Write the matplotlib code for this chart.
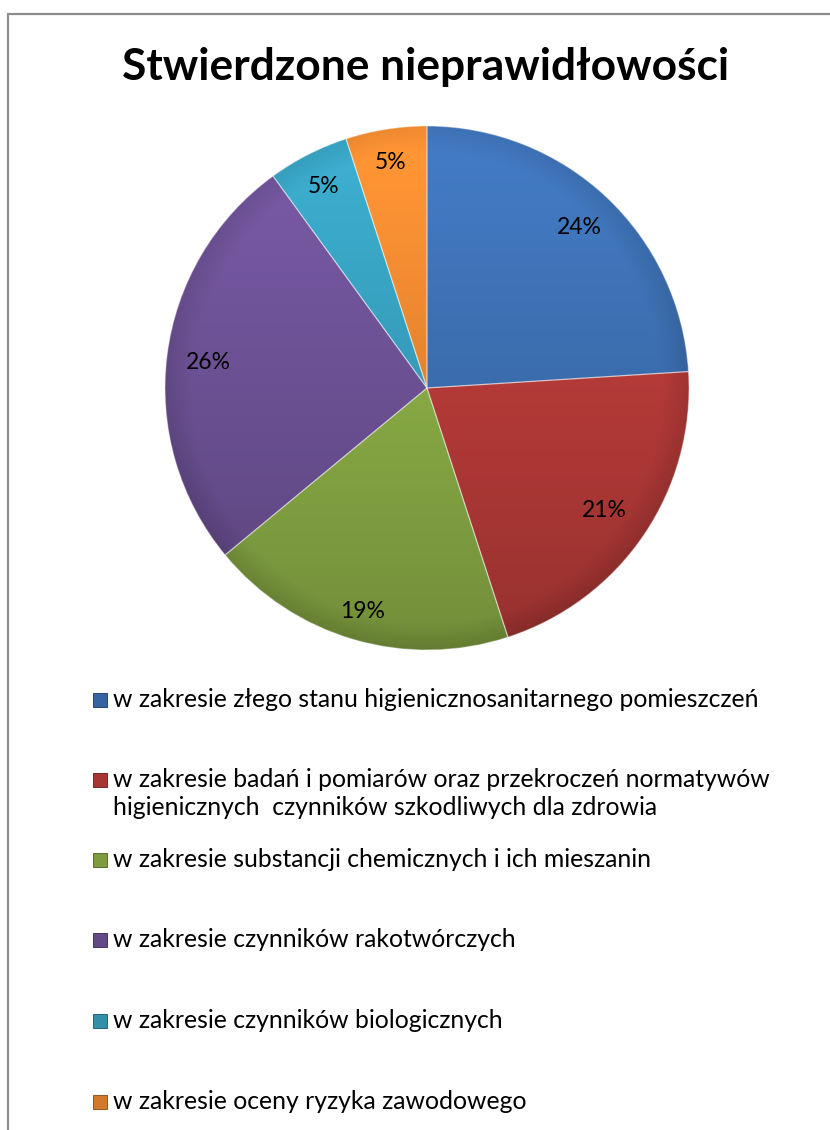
import matplotlib
matplotlib.use("Agg")
import matplotlib.pyplot as plt
import numpy as np
from matplotlib.patches import Rectangle

# ---- data ----
title = "Stwierdzone nieprawidłowości"
categories = [
    "w zakresie złego stanu higienicznosanitarnego pomieszczeń",
    "w zakresie badań i pomiarów oraz przekroczeń normatywów\nhigienicznych  czynników szkodliwych dla zdrowia",
    "w zakresie substancji chemicznych i ich mieszanin",
    "w zakresie czynników rakotwórczych",
    "w zakresie czynników biologicznych",
    "w zakresie oceny ryzyka zawodowego",
]
values = [24, 21, 19, 26, 5, 5]
pct_labels = [f"{v}%" for v in values]

# ---- styles ----
colors = ["#4076BC", "#C23F3C", "#93B74A", "#74579F", "#3AA8C8", "#F78F33"]
label_dist = [0.85, 0.82, 0.88, 0.84, 0.87, 0.88]
FONT = ["Lato", "DejaVu Sans"]
plt.rcParams["font.family"] = FONT

W, H = 830, 1130
fig = plt.figure(figsize=(W / 100, H / 100), dpi=100)
fig.patch.set_facecolor("white")

# overlay axes in pixel coordinates (y downwards)
ov = fig.add_axes([0, 0, 1, 1], zorder=0)
ov.set_xlim(0, W)
ov.set_ylim(H, 0)
ov.axis("off")
ov.patch.set_alpha(0)

# chart frame (right / bottom edges lie outside the picture)
ov.plot([8, 8, W + 20], [H + 20, 14, 14], color="#8C8C8C", lw=1.6,
        solid_joinstyle="miter", clip_on=False)

# ---- pie ----
cx, cy, R = 427, 388, 262
pa = fig.add_axes([(cx - R) / W, (H - cy - R) / H, 2 * R / W, 2 * R / H], zorder=1)
wedges, _ = pa.pie(values, colors=colors, startangle=90, counterclock=False,
                   radius=1.0, wedgeprops=dict(edgecolor=(1, 1, 1, 0.35), linewidth=0.9))
pa.set_xlim(-1, 1)
pa.set_ylim(-1, 1)
pa.set_aspect("equal")
pa.axis("off")

# vertical shading inside each wedge, slightly darker towards the rim
ny = 400
yy, xx = np.mgrid[1:-1:ny * 1j, -1:1:ny * 1j]
rr = np.sqrt(xx ** 2 + yy ** 2)
fac = (1.06 - 0.14 * (1 - yy) - 0.10 * np.clip((rr - 0.9) / 0.1, 0, 1))[:, :, None]
for w, c in zip(wedges, colors):
    base = np.array(matplotlib.colors.to_rgb(c))[None, None, :]
    img = np.clip(base * fac, 0, 1)
    im = pa.imshow(img, extent=(-1, 1, -1, 1), origin="upper", aspect="auto",
                   zorder=w.get_zorder() + 0.1, interpolation="bilinear")
    im.set_clip_path(w)
    w.set_zorder(w.get_zorder() + 0.2)
    w.set_facecolor("none")

pa.set_xlim(-1, 1)
pa.set_ylim(-1, 1)

fig.canvas.draw()
renderer = fig.canvas.get_renderer()


def fit(text_obj, target_px):
    fs = text_obj.get_fontsize()
    wpx = text_obj.get_window_extent(renderer).width
    text_obj.set_fontsize(fs * target_px / wpx)


# title
t = ov.text(425.5, 80, title, ha="center", va="baseline", fontsize=34,
            fontweight="bold", color="black")
fit(t, 607)

# percentage labels
theta = 90.0
total = float(sum(values))
pct_texts = []
for v, lab, d in zip(values, pct_labels, label_dist):
    span = 360.0 * v / total
    mid = np.deg2rad(theta - span / 2)
    theta -= span
    x = d * np.cos(mid)
    y = d * np.sin(mid)
    pct_texts.append(pa.text(x, y - 8.5 / R, lab, ha="center", va="baseline",
                             fontsize=18, color="black", zorder=10))
fig.canvas.draw()
fs0 = pct_texts[3].get_fontsize()
wpx = pct_texts[3].get_window_extent(renderer).width
for tt in pct_texts:
    tt.set_fontsize(fs0 * 45 / wpx)

# legend
row_y = [700, 780, 860, 940, 1021, 1102]
leg_texts = []
for yc, lab, c in zip(row_y, categories, colors):
    rgb = np.array(matplotlib.colors.to_rgb(c))
    ov.add_patch(Rectangle((93, yc - 7), 14, 14, facecolor=rgb * 0.85,
                           edgecolor=rgb * 0.6, lw=0.7))
    for i, line in enumerate(lab.split("\n")):
        leg_texts.append(ov.text(113, yc + 7 + i * 28, line, ha="left", va="baseline",
                                 fontsize=18, color="black"))
fig.canvas.draw()
fs0 = leg_texts[0].get_fontsize()
wpx = leg_texts[0].get_window_extent(renderer).width
for tt in leg_texts:
    tt.set_fontsize(fs0 * 644 / wpx)

fig.savefig("out.png", dpi=100, facecolor="white")
